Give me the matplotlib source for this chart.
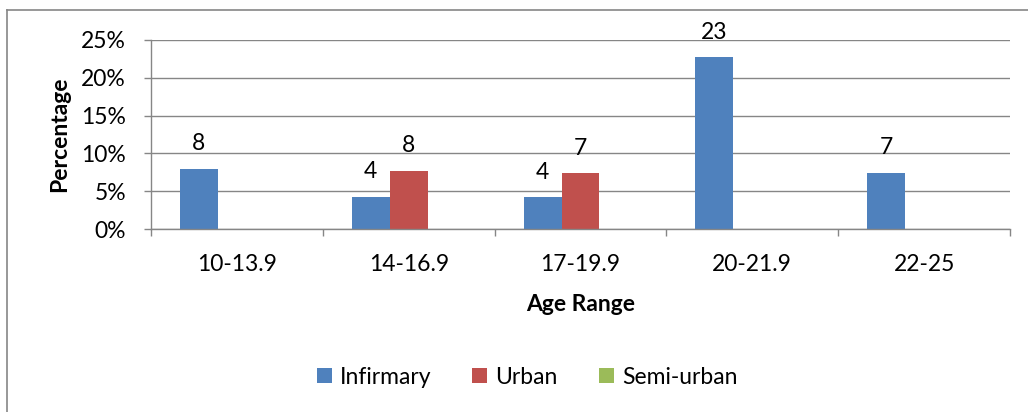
import numpy as np
import matplotlib
matplotlib.use("Agg")
import matplotlib.pyplot as plt
from matplotlib.ticker import PercentFormatter, FixedLocator
from matplotlib.lines import Line2D

plt.rcParams['font.family'] = ['Lato', 'DejaVu Sans']
plt.rcParams['font.size'] = 16.5

# data (percent)
age_ranges = ['10-13.9', '14-16.9', '17-19.9', '20-21.9', '22-25']
infirmary = [8.0, 4.25, 4.2, 22.7, 7.45]
urban = [0, 7.7, 7.35, 0, 0]
semi_urban = [0, 0, 0, 0, 0]
series_names = ['Infirmary', 'Urban', 'Semi-urban']
colors = ['#4F81BD', '#C0504D', '#9BBB59']
grid_col = '#868686'

fig = plt.figure(figsize=(10.28, 4.12), dpi=100)
ax = fig.add_axes([151/1028, 1-229/412, (1010-151)/1028, (229-40)/412])

x = np.arange(len(age_ranges))
w = 0.221
for i, (vals, name, c) in enumerate(zip([infirmary, urban, semi_urban], series_names, colors)):
    bars = ax.bar(x + (i-1)*w, vals, w, color=c, label=name, zorder=3)
    for b, v in zip(bars, vals):
        if v > 0:
            ax.annotate(f"{round(v)}", (b.get_x() + b.get_width()/2, v),
                        xytext=(0, 18), textcoords='offset points',
                        ha='center', va='center')

ax.set_xlim(-0.5, len(age_ranges) - 0.5)
ax.set_ylim(0, 25)
ax.yaxis.set_major_locator(FixedLocator([0, 5, 10, 15, 20, 25]))
ax.yaxis.set_major_formatter(PercentFormatter(xmax=100, decimals=0))
ax.set_xticks(x)
ax.set_xticklabels(age_ranges)
ax.set_xticks(np.arange(len(age_ranges)+1) - 0.5, minor=True)
ax.tick_params(axis='x', which='major', length=0, pad=18)
ax.tick_params(axis='x', which='minor', length=5, width=1, color=grid_col)
ax.tick_params(axis='y', length=5, width=1, color=grid_col, pad=13)
ax.grid(axis='y', color=grid_col, linewidth=1, zorder=0)
for s in ['top', 'right']:
    ax.spines[s].set_visible(False)
for s in ['left', 'bottom']:
    ax.spines[s].set_color(grid_col)
    ax.spines[s].set_linewidth(1)
    ax.spines[s].set_zorder(4)

ax.set_ylabel('Percentage', fontweight='bold', labelpad=8)
ax.set_xlabel('Age Range', fontweight='bold', labelpad=14)

fig.legend(loc='center', bbox_to_anchor=(527/1028, 1-377/412), ncol=3,
           frameon=False, handlelength=0.65, handleheight=0.65,
           handletextpad=0.35, columnspacing=1.8)

# chart border (left and top visible)
fig.add_artist(Line2D([7/1028, 7/1028], [0, 1-10/412], transform=fig.transFigure,
                      color=grid_col, linewidth=1.2))
fig.add_artist(Line2D([7/1028, 1], [1-10/412, 1-10/412], transform=fig.transFigure,
                      color=grid_col, linewidth=1.2))

fig.savefig('out.png', dpi=100)
